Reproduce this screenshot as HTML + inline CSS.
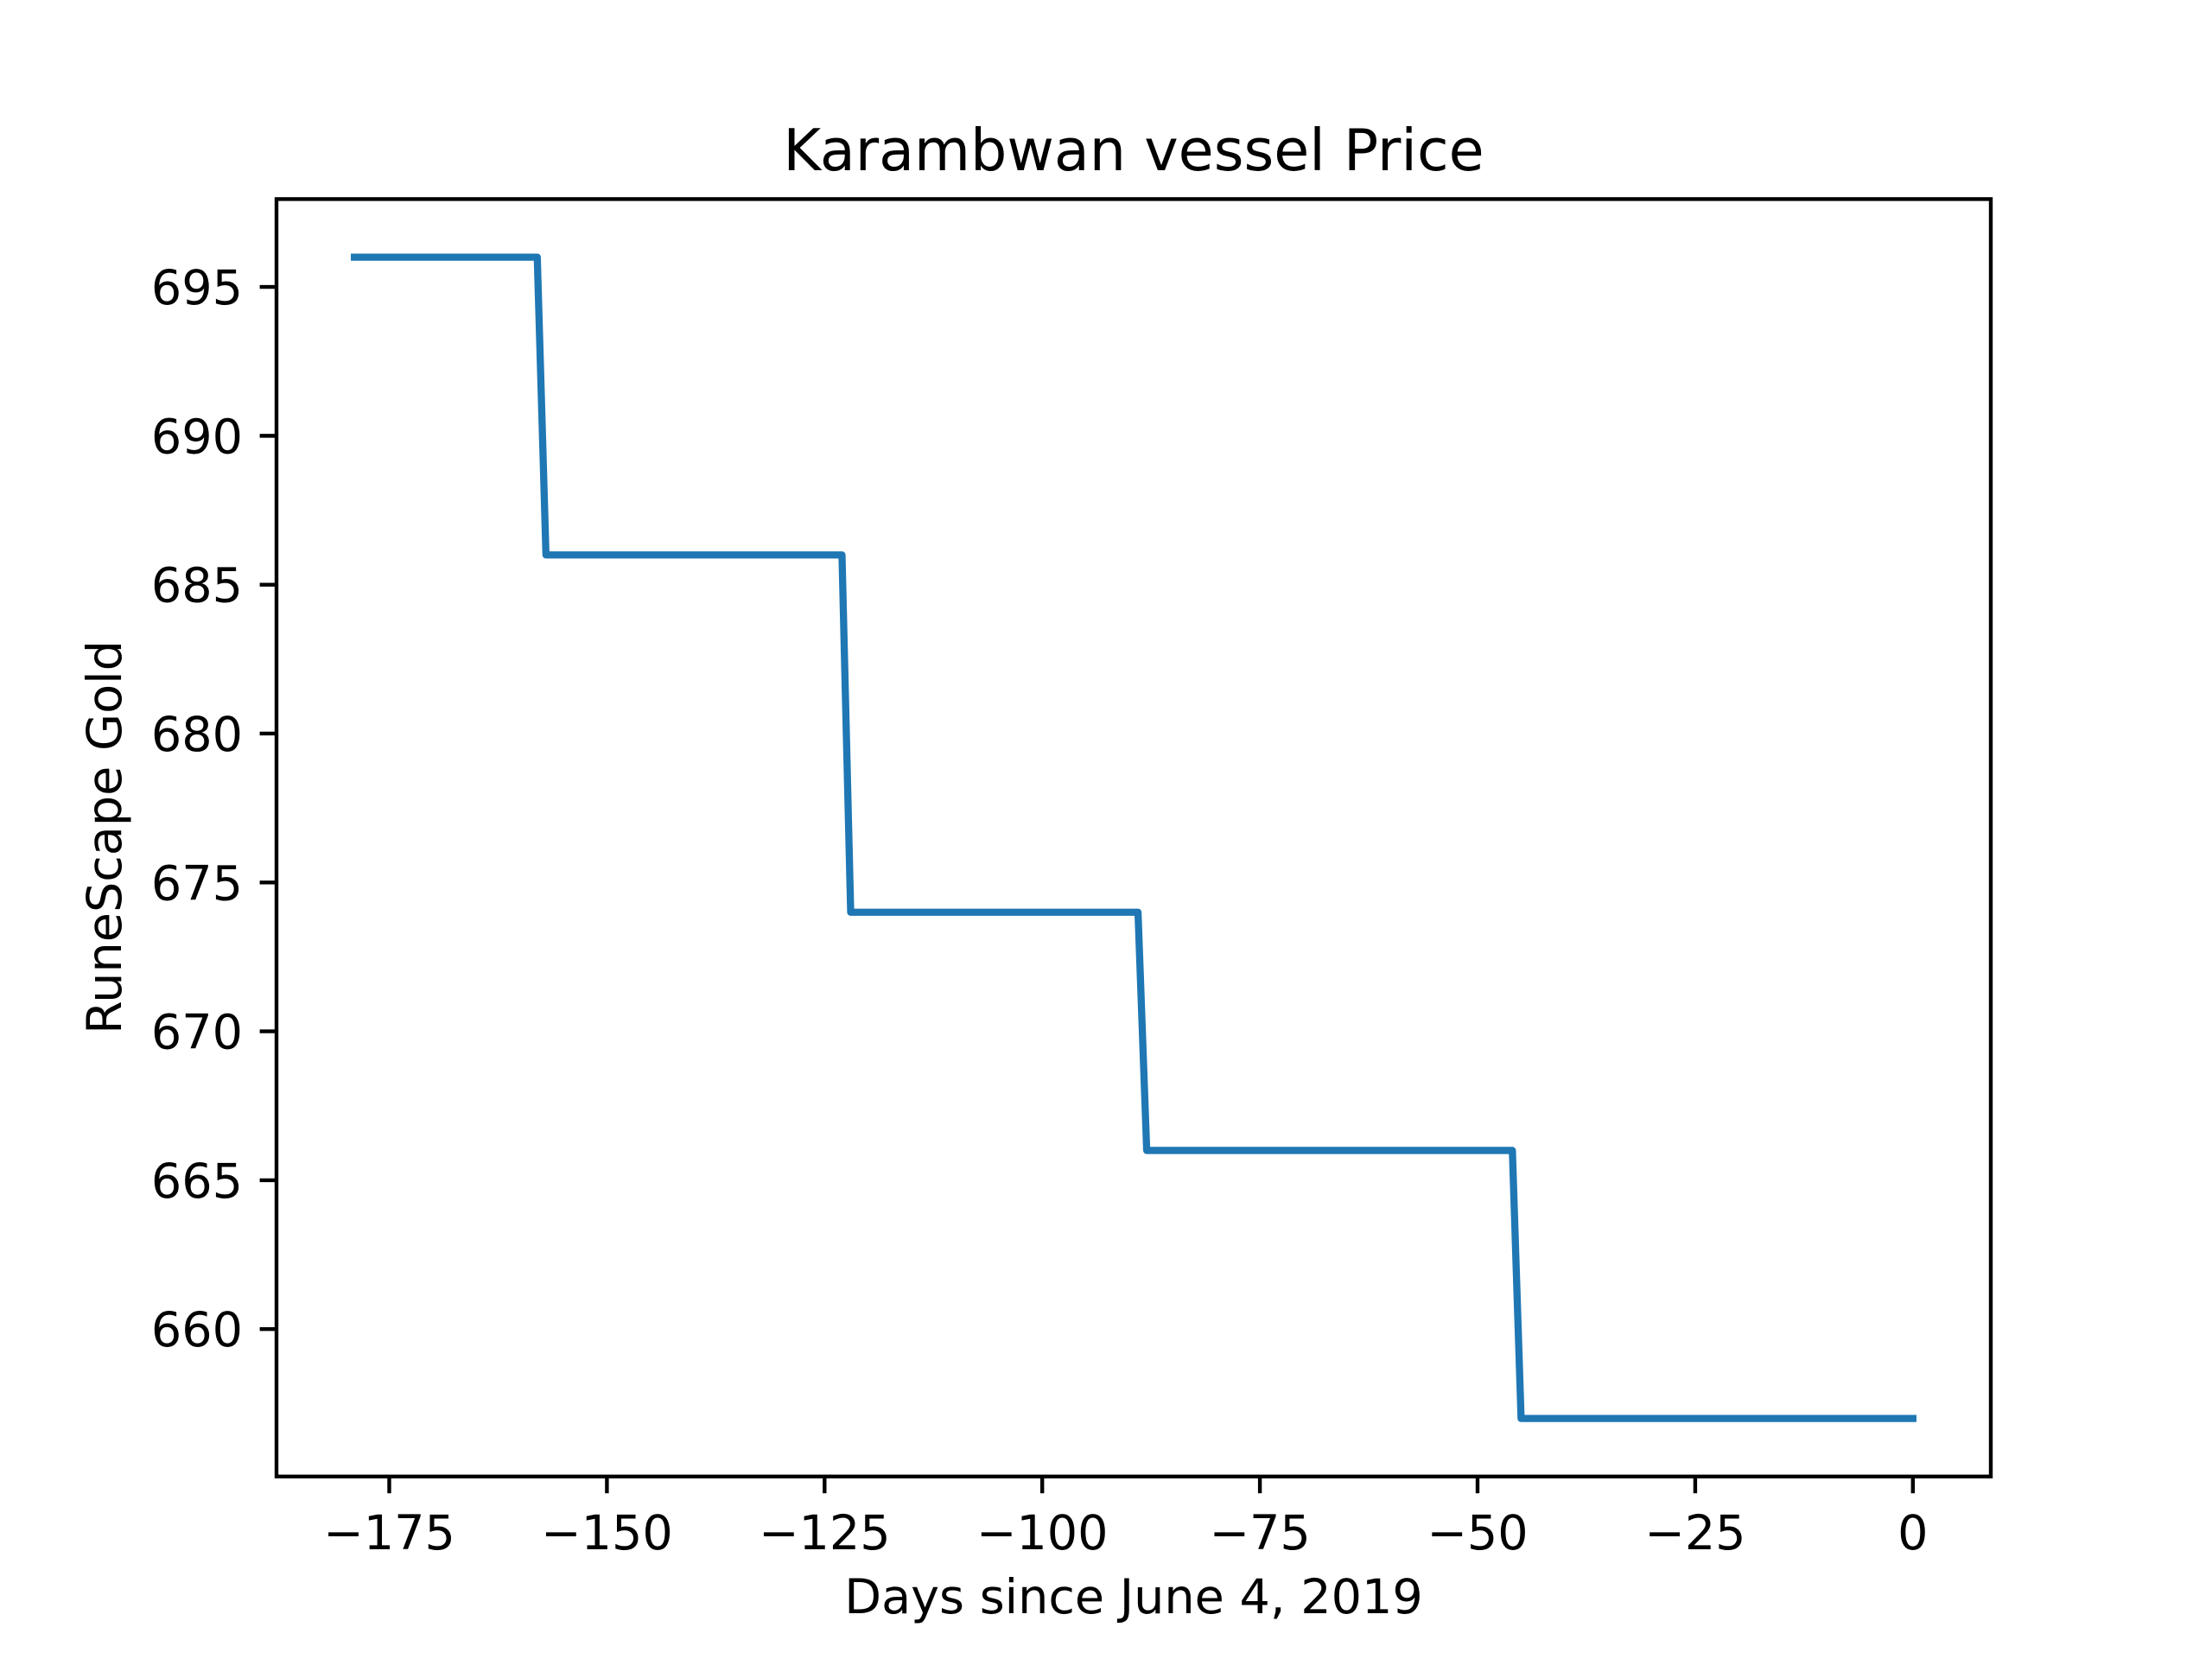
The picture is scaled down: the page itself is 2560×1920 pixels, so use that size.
<!DOCTYPE html>
<html><head><meta charset="utf-8"><style>html,body{margin:0;padding:0;background:#fff}svg{display:block}text{font-family:"DejaVu Sans","Liberation Sans",sans-serif;fill:#000}</style></head>
<body>
<svg id="chart" width="2560" height="1920" viewBox="0 0 2560 1920" xmlns="http://www.w3.org/2000/svg">
<rect width="2560" height="1920" fill="#fff"/>
<text x="1312" y="197" font-size="66.7" text-anchor="middle">Karambwan vessel Price</text>
<g id="xticks"></g>
<g id="yticks"></g>
<path id="line" fill="none" stroke="#1f77b4" stroke-width="8.3" stroke-linejoin="round" stroke-linecap="square"/>
<rect x="320" y="230.4" width="1984" height="1478.4" fill="none" stroke="#000" stroke-width="4.4"/>
<text x="1312" y="1867" font-size="55.6" text-anchor="middle">Days since June 4, 2019</text>
<text transform="translate(140,969) rotate(-90)" font-size="55.6" text-anchor="middle">RuneScape Gold</text>
</svg>
<script>
const days = [-179, -158, -157, -123, -122, -89, -88, -46, -45, 0];
const prices = [696, 696, 686, 686, 674, 674, 666, 666, 657, 657];
const xTicks = [-175, -150, -125, -100, -75, -50, -25, 0];
const yTicks = [660, 665, 670, 675, 680, 685, 690, 695];

const L = 320, R = 2304, T = 230.4, B = 1708.8;
const xmin0 = Math.min(...days), xmax0 = Math.max(...days);
const ymin0 = Math.min(...prices), ymax0 = Math.max(...prices);
const xp = (xmax0 - xmin0) * 0.05, yp = (ymax0 - ymin0) * 0.05;
const xmin = xmin0 - xp, xmax = xmax0 + xp, ymin = ymin0 - yp, ymax = ymax0 + yp;
const sx = v => L + (v - xmin) / (xmax - xmin) * (R - L);
const sy = v => B - (v - ymin) / (ymax - ymin) * (B - T);
const NS = 'http://www.w3.org/2000/svg';

const line = document.getElementById('line');
line.setAttribute('d', days.map((d, i) => (i ? 'L' : 'M') + sx(d).toFixed(2) + ' ' + sy(prices[i]).toFixed(2)).join(' '));

const xg = document.getElementById('xticks');
xTicks.forEach(t => {
  const l = document.createElementNS(NS, 'line');
  
  
  l.setAttribute('x1', sx(t)); l.setAttribute('x2', sx(t));
  l.setAttribute('y1', B); l.setAttribute('y2', B + 19.4);
  l.setAttribute('stroke', '#000'); l.setAttribute('stroke-width', '4.4');
  xg.appendChild(l);
  const tx = document.createElementNS(NS, 'text');
  
  
  tx.setAttribute('x', sx(t)); tx.setAttribute('y', 1793);
  tx.setAttribute('font-size', '55.6'); tx.setAttribute('text-anchor', 'middle');
  tx.textContent = t < 0 ? '\u2212' + Math.abs(t) : String(t);
  xg.appendChild(tx);
});

const yg = document.getElementById('yticks');
yTicks.forEach(t => {
  const l = document.createElementNS(NS, 'line');
  
  
  l.setAttribute('x1', L - 19.4); l.setAttribute('x2', L);
  l.setAttribute('y1', sy(t)); l.setAttribute('y2', sy(t));
  l.setAttribute('stroke', '#000'); l.setAttribute('stroke-width', '4.4');
  yg.appendChild(l);
  const tx = document.createElementNS(NS, 'text');
  
  
  tx.setAttribute('x', 281); tx.setAttribute('y', sy(t) + 20);
  tx.setAttribute('font-size', '55.6'); tx.setAttribute('text-anchor', 'end');
  tx.textContent = String(t);
  yg.appendChild(tx);
});
</script>
</body></html>
